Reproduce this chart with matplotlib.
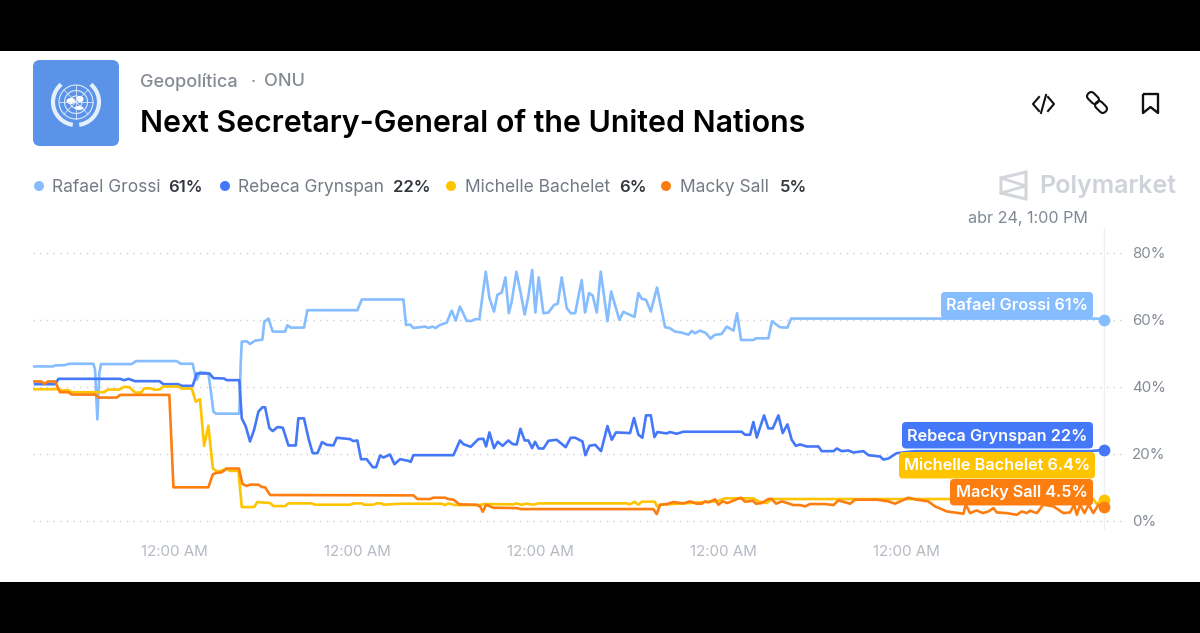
import matplotlib
matplotlib.use("Agg")
import matplotlib.pyplot as plt
from matplotlib.patches import Circle, FancyBboxPatch, Polygon, Rectangle, Arc, PathPatch, Ellipse
from matplotlib.path import Path

plt.rcParams['font.family'] = ['Inter', 'DejaVu Sans']

# time axis: hours after the first midnight shown
grossi_hours = [-9.22,-7.96,-7.80,-7.15,-6.89,-5.29,-5.18,-5.03,-4.90,-4.79,-2.78,-2.49,0.17,0.44,1.22,1.38,1.49,1.70,2.25,2.40,2.58,2.75,4.28,4.37,4.44,4.77,4.98,5.31,5.79,5.92,6.19,6.47,7.28,7.43,7.65,8.52,8.74,12.02,12.31,
    15.04,15.21,15.48,15.69,16.46,16.68,16.94,17.16,17.44,17.88,18.21,18.47,18.75,19.19,19.52,19.74,20.02,20.44,20.68,20.98,21.20,21.49,21.73,21.95,22.14,22.45,22.73,22.99,23.23,23.48,23.69,23.91,24.22,24.55,24.92,25.16,25.42,25.75,26.01,26.30,26.73,26.95,27.21,27.45,27.72,27.98,28.42,28.66,29.20,29.46,30.19,30.45,30.67,30.95,31.26,31.67,32.20,32.48,32.85,33.29,33.73,33.95,34.16,34.49,34.86,35.19,35.43,35.91,36.24,36.68,36.92,37.18,37.99,38.16,38.97,39.21,39.74,40.22,40.46,60.50,60.98]
grossi_pct = [46.1,46.1,46.4,46.5,46.9,46.9,45.1,30.3,44.1,46.8,46.8,47.7,47.7,46.9,46.9,43.6,42.1,44.4,44.1,39.1,32.6,32.0,32.0,47.1,53.5,53.6,52.8,53.8,54.1,59.5,60.4,56.5,56.5,58.4,57.7,57.7,62.9,62.9,66.1,
    66.1,58.5,58.6,57.6,58.0,57.6,58.0,57.6,58.5,59.2,62.8,59.8,64.0,59.7,59.7,60.2,60.2,74.4,66.5,62.5,67.5,68.2,72.7,62.0,65.5,74.4,68.0,61.6,67.0,74.9,62.2,72.7,62.0,62.2,64.5,64.8,72.7,63.5,62.0,62.0,71.9,62.2,68.0,67.3,62.2,74.4,59.6,68.5,60.0,62.4,60.9,68.0,66.3,66.0,62.5,69.7,57.8,57.6,56.5,56.2,55.6,56.7,56.0,56.8,56.1,54.4,55.5,55.8,58.0,56.8,62.0,54.0,54.0,54.5,54.5,59.6,57.8,57.7,60.4,60.4,60.1]

rebeca_hours = [-9.11,-7.80,-7.58,-3.54,-3.28,-2.99,-2.56,-0.96,-0.70,0.28,0.50,1.22,1.49,2.32,2.58,3.28,3.45,4.28,4.44,4.70,4.98,5.25,5.53,5.79,5.97,6.25,6.47,6.78,7.13,7.50,7.98,8.15,8.52,8.81,9.09,9.40,9.70,10.01,10.45,10.67,11.54,11.76,12.02,12.26,12.63,13.03,13.25,13.51,13.73,14.16,14.45,14.82,
    15.37,15.52,15.69,18.32,18.75,18.97,19.45,19.96,20.28,20.46,20.68,20.98,21.22,21.55,21.92,22.21,22.47,22.71,22.99,23.23,23.48,23.67,23.91,24.22,24.55,25.09,25.68,26.01,26.30,26.78,26.97,27.24,27.61,28.00,28.42,28.70,28.98,29.90,30.16,30.45,30.71,30.95,31.26,31.50,31.69,32.31,32.52,32.96,33.40,37.22,37.44,37.77,37.99,38.21,38.69,38.97,39.26,39.63,39.91,40.22,40.50,40.77,41.05,
    41.49,42.25,42.47,43.24,43.46,43.78,44.22,44.55,45.20,45.53,46.30,46.51,46.84,47.38,48.59,58.75,60.07,60.98]
rebeca_pct = [40.8,40.8,42.4,42.4,42.0,42.4,41.7,41.7,40.8,40.8,40.3,40.3,44.0,44.0,42.6,42.5,42.0,42.0,30.6,28.2,23.7,27.2,32.6,33.9,33.9,27.7,26.8,28.0,27.8,22.5,22.5,30.6,30.6,24.7,20.2,20.2,23.5,22.7,22.5,24.8,24.4,23.8,24.0,18.4,18.4,16.0,16.0,19.5,18.9,19.8,16.9,18.4,
    17.9,17.6,19.6,19.6,24.0,22.9,22.1,24.4,24.5,22.2,26.4,21.7,23.6,22.4,24.0,22.9,22.8,27.5,24.0,24.0,21.7,23.6,21.6,21.6,23.9,24.2,22.0,24.8,24.8,23.7,19.6,22.4,22.7,20.8,28.3,24.2,26.4,26.2,30.7,25.7,24.8,31.5,31.5,25.0,26.5,26.1,26.5,26.0,26.6,26.6,25.7,25.7,29.5,24.9,31.5,27.6,27.6,31.5,26.2,28.8,24.2,22.4,22.8,
    22.2,22.2,20.8,20.8,21.6,20.8,21.0,20.4,20.8,19.6,19.2,18.3,18.6,20.2,20.8,20.8,20.8,21.2]

michelle_hours = [-9.22,-7.58,-7.48,-6.93,-6.71,-4.63,-4.31,-3.58,-3.28,-2.93,-2.56,-2.16,-1.97,-1.57,-1.25,-0.92,-0.70,0.28,0.50,1.16,1.42,1.70,1.97,2.25,2.54,2.80,3.13,3.45,3.67,4.22,4.44,5.25,5.46,6.30,6.51,7.28,7.50,9.03,9.25,11.54,11.76,12.31,12.46,13.07,13.29,13.62,13.73,
    14.82,17.55,17.77,17.99,18.43,20.07,20.28,22.25,22.47,22.73,23.13,23.56,23.89,29.68,29.90,30.19,30.45,30.67,31.54,31.65,31.98,35.58,36.13,37.99,38.32,38.86,39.19,41.05,50.89,60.28,60.50,60.98]
michelle_pct = [39.3,39.3,39.0,39.0,38.4,38.4,39.2,39.2,40.0,39.9,38.3,38.3,39.5,39.6,39.1,39.3,40.1,40.1,39.5,39.5,35.6,36.3,22.4,28.4,15.7,14.7,15.0,15.6,14.9,14.9,4.1,4.1,5.6,5.3,4.4,4.4,5.2,5.2,4.8,4.8,5.2,5.2,4.8,4.8,5.2,5.2,4.8,
    5.1,5.1,4.7,5.2,4.7,4.7,5.0,4.9,5.2,4.8,5.1,4.8,5.2,5.2,4.9,5.7,4.8,5.7,5.7,4.3,4.8,5.8,6.7,6.7,5.8,5.3,6.5,6.5,6.5,6.5,5.1,6.1]

macky_hours = [-9.22,-8.68,-8.50,-8.28,-7.80,-7.48,-6.93,-6.71,-5.18,-4.96,-3.76,-3.54,-0.31,-0.04,2.25,2.54,2.80,3.13,3.45,4.26,4.48,4.77,4.98,5.53,5.75,5.97,6.30,14.82,
    15.69,15.96,16.79,17.00,17.77,17.99,18.32,18.71,19.80,20.07,20.24,20.46,20.94,22.47,22.73,31.43,31.65,31.87,32.31,32.74,33.40,33.84,34.27,34.60,34.82,35.04,35.48,35.69,35.98,36.28,37.16,37.44,37.95,38.16,38.54,38.97,39.19,39.48,39.85,40.28,40.61,41.05,
    41.38,41.70,42.69,43.24,43.56,44.33,44.66,46.08,46.84,47.28,48.15,48.70,49.46,49.90,50.67,51.76,51.91,52.20,52.63,53.03,53.40,53.73,53.95,54.60,55.26,55.59,55.91,56.13,56.57,57.00,57.66,58.32,58.75,59.02,59.20,59.41,59.70,59.97,60.28,60.61,60.98]
macky_pct = [41.6,41.6,40.9,41.6,41.6,38.4,38.4,37.7,37.7,36.8,36.8,37.6,37.6,10.0,10.0,13.9,14.3,14.5,15.6,15.6,11.0,10.4,10.8,10.8,10.1,10.0,7.7,7.6,
    7.6,6.5,6.5,6.9,6.9,6.5,6.3,4.9,4.8,4.3,2.7,4.8,3.9,3.8,3.5,3.5,2.0,4.8,5.0,5.6,5.2,5.8,5.1,5.1,5.8,5.5,6.4,4.8,5.8,5.3,6.9,5.7,6.0,5.1,5.3,6.5,6.5,5.1,5.8,5.2,4.7,4.7,
    4.3,5.0,5.0,4.7,6.1,5.1,6.3,6.3,5.8,5.1,6.9,6.3,5.8,4.3,2.8,2.1,4.8,2.3,3.1,2.3,2.8,3.8,2.5,2.3,1.8,2.8,2.3,3.0,2.3,4.8,4.3,2.3,2.5,4.8,1.8,4.8,2.3,4.8,2.3,4.8,4.0]

names = ["Rafael Grossi", "Rebeca Grynspan", "Michelle Bachelet", "Macky Sall"]
legend_values = ["61%", "22%", "6%", "5%"]
end_labels = ["61%", "22%", "6.4%", "4.5%"]
colors = ["#85BDFF", "#4478F8", "#FFC400", "#FC7E10"]
series = [(grossi_hours, grossi_pct), (rebeca_hours, rebeca_pct),
          (michelle_hours, michelle_pct), (macky_hours, macky_pct)]
y_ticks = [0, 20, 40, 60, 80]
x_ticks = [0, 12, 24, 36, 48]
x_labels = ["12:00 AM"] * 5

fig = plt.figure(figsize=(12, 6.33), dpi=100, facecolor="white")

# chart axes, px 33..1122 / 228..530
ax = fig.add_axes([33/1200, 1-530/633, 1089/1200, 302/633])
ax.set_xlim(-9.25, 62.16)
ax.set_ylim(-2.75, 87.45)
for s in ax.spines.values():
    s.set_visible(False)
ax.set_yticks(y_ticks)
ax.set_yticklabels([f"{v}%" for v in y_ticks])
ax.yaxis.tick_right()
ax.set_xticks(x_ticks)
ax.set_xticklabels(x_labels)
ax.tick_params(axis="y", length=0, pad=7, labelsize=10.8, labelcolor="#858B96")
ax.tick_params(axis="x", length=0, pad=11, labelsize=10.9, labelcolor="#B5BAC2")
ax.grid(axis="y", color="#CDD0D4", linewidth=1.0, linestyle=(0, (1, 3.8)))
ax.set_axisbelow(True)
ax.axvline(60.98, color="#EEF0F3", linewidth=1, zorder=1)
for (h, p), c in zip(series, colors):
    ax.plot(h, p, color=c, linewidth=1.9, solid_joinstyle="round", zorder=3)
    ax.plot(h[-1], p[-1], "o", color=c, markersize=8.5, markeredgewidth=0, zorder=4, clip_on=False)

# overlay in pixel coords for the page furniture
ov = fig.add_axes([0, 0, 1, 1], facecolor="none")
ov.set_xlim(0, 1200)
ov.set_ylim(633, 0)
ov.axis("off")
ov.add_patch(Rectangle((0, 0), 1200, 51, color="black", lw=0))
ov.add_patch(Rectangle((0, 582), 1200, 51, color="black", lw=0))

# UN icon
ov.add_patch(FancyBboxPatch((37, 64), 78, 78, boxstyle="round,pad=4,rounding_size=7", fc="#5A93E8", ec="none"))
cx, cy = 76, 102
for r in (6, 11.5, 17):
    ov.add_patch(Circle((cx, cy), r, fc="none", ec="#DDE9FA", lw=0.8))
ov.plot([cx-17, cx+17], [cy, cy], color="#DDE9FA", lw=0.6)
ov.plot([cx, cx], [cy-17, cy+17], color="#DDE9FA", lw=0.6)
ov.plot([cx-12, cx+12], [cy-12, cy+12], color="#DDE9FA", lw=0.5)
ov.plot([cx-12, cx+12], [cy+12, cy-12], color="#DDE9FA", lw=0.5)
ov.add_patch(Ellipse((cx-5, cy-1), 9, 6, fc="white", ec="none"))
ov.add_patch(Ellipse((cx+4, cy-3), 7, 6, fc="white", ec="none"))
ov.add_patch(Ellipse((cx+3, cy+6), 9, 4, fc="white", ec="none"))
ov.add_patch(Arc((cx, cy), 46, 46, theta1=-50, theta2=82, ec="#E6EFFC", lw=3))
ov.add_patch(Arc((cx, cy), 46, 46, theta1=98, theta2=230, ec="#E6EFFC", lw=3))

# header
ov.text(140, 82, "Geopolítica", fontsize=13, color="#858A93", va="center", fontweight="medium")
ov.text(251, 82, "·", fontsize=13, color="#858A93", va="center")
ov.text(264, 82, "ONU", fontsize=13, color="#858A93", va="center", fontweight="medium")
ov.text(140, 123, "Next Secretary-General of the United Nations", fontsize=21.8, color="black",
        va="center", fontweight="semibold")

# header icons
ov.plot([1039, 1033, 1039], [97, 104, 111], color="#111", lw=1.5)
ov.plot([1048, 1054, 1048], [97, 104, 111], color="#111", lw=1.5)
ov.plot([1041, 1046], [113, 95], color="#111", lw=1.5)
for lx, ly in [(1093, 98), (1101, 107)]:
    ov.add_patch(FancyBboxPatch((lx-4, ly-1.5), 8, 3, boxstyle="round,pad=2.5,rounding_size=4", fc="none", ec="#111", lw=1.5,
                                transform=matplotlib.transforms.Affine2D().rotate_deg_around(lx, ly, 45) + ov.transData))
ov.add_patch(PathPatch(Path([(1143, 94), (1158, 94), (1158, 113), (1150.5, 107), (1143, 113), (1143, 94)]),
                       fc="none", ec="#111", lw=1.7, joinstyle="round"))

# legend row
legend_dots = [39, 225, 451, 666]
legend_names = [52, 238, 465, 680]
legend_vals = [168, 393, 619, 780]
for i, n in enumerate(names):
    ov.add_patch(Circle((legend_dots[i], 186), 5, fc=colors[i], ec="none"))
    ov.text(legend_names[i], 186, n, fontsize=12.5, color="#737A85", va="center_baseline")
    ov.text(legend_vals[i], 186, legend_values[i], fontsize=12, color="#33383F", va="center_baseline", fontweight="semibold")

# polymarket watermark
ov.add_patch(Polygon([(1001, 178), (1026, 172), (1026, 199), (1001, 193)], closed=True, fc="none", ec="#D2D6DB", lw=2.2))
ov.plot([1001, 1026, 1001], [178, 186, 193], color="#D2D6DB", lw=2)
ov.text(1039, 187, "Polymarket", fontsize=18, color="#CFD3D9", va="center", fontweight="semibold")
ov.text(968, 218, "abr 24, 1:00 PM", fontsize=11.6, color="#7F8894", va="center")

# end-of-line labels
boxes = [(941, 292, 1093), (902, 422, 1093), (899, 452, 1095), (950, 479, 1093)]
for (x0, y0, x1), n, v, c in zip(boxes, names, end_labels, colors):
    ov.add_patch(FancyBboxPatch((x0+4, y0+4), x1-x0-8, 18.5, boxstyle="round,pad=4,rounding_size=4", fc=c, ec="none"))
    ov.text((x0+x1)/2, y0+14, f"{n} {v}", fontsize=11.7, color="white", ha="center", va="center", fontweight="semibold")

fig.savefig("out.png", dpi=100)
